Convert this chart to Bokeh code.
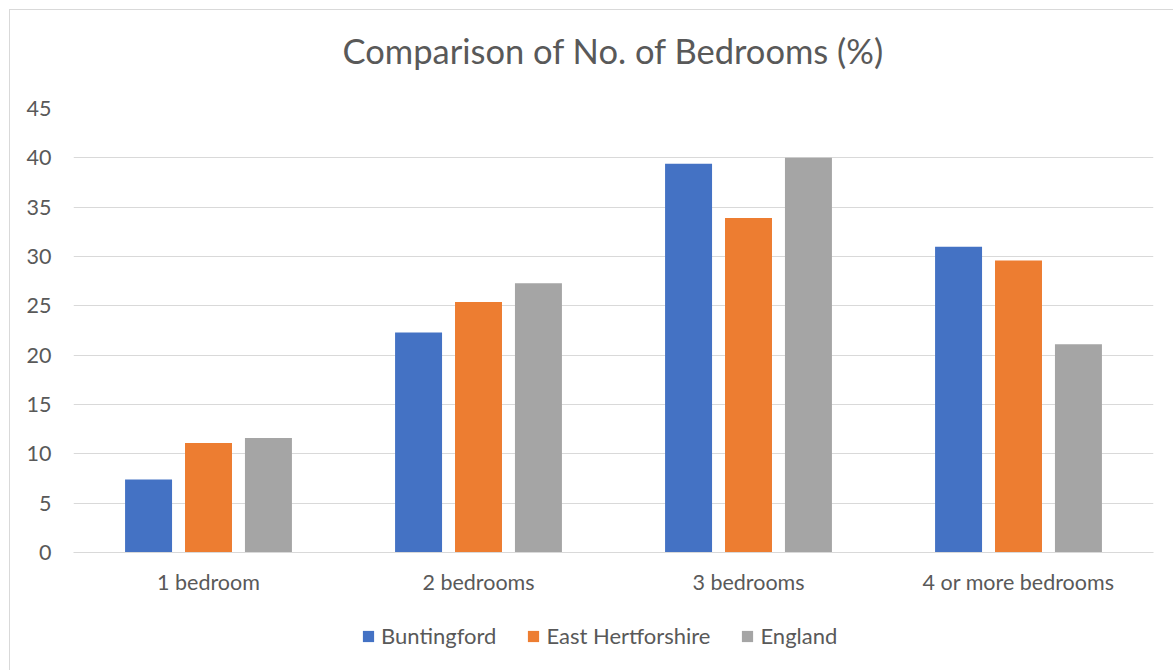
from bokeh.plotting import figure
from bokeh.models import ColumnDataSource, FactorRange, Range1d, FixedTicker, Legend, LegendItem, Title
from bokeh.layouts import column
from bokeh.transform import dodge
from bokeh.embed import file_html
from bokeh.resources import INLINE

categories = ["1 bedroom", "2 bedrooms", "3 bedrooms", "4 or more bedrooms"]
series_names = ["Buntingford", "East Hertforshire", "England"]
buntingford = [7.4, 22.3, 39.4, 31.0]
east_herts = [11.1, 25.4, 33.9, 29.6]
england = [11.6, 27.3, 40.0, 21.1]
y_ticks = [0, 5, 10, 15, 20, 25, 30, 35, 40, 45]
title_text = "Comparison of No. of Bedrooms (%)"

colors = ["#4472C4", "#ED7D31", "#A5A5A5"]
FONT = "Lato"
TXT = "#595959"
TICK_SIZE = "21.5px"

source = ColumnDataSource(data=dict(cat=categories, b=buntingford, e=east_herts, g=england))

p = figure(x_range=FactorRange(*categories, range_padding=0), y_range=Range1d(0, 45),
           width=1163, height=600, output_backend="svg", toolbar_location=None,
           min_border_left=63, min_border_right=20, min_border_top=98, min_border_bottom=58,
           title=None)

# spacer panel between frame and title, then the title itself
p.add_layout(Title(text=" ", text_font=FONT, text_font_size="17px", standoff=0), "above")
p.add_layout(Title(text=title_text, align="center", text_font=FONT, text_font_size="34.5px",
                   text_font_style="normal", text_color=TXT, standoff=30), "above")

offsets = [-0.222, 0.0, 0.222]
renderers = []
for key, off, col in zip(["b", "e", "g"], offsets, colors):
    r = p.vbar(x=dodge("cat", off, range=p.x_range), top=key, width=0.174, source=source,
               fill_color=col, line_color=None)
    renderers.append(r)

p.outline_line_color = None
p.xgrid.grid_line_color = None
p.ygrid.grid_line_color = "#d9d9d9"
p.ygrid.grid_line_width = 1

p.yaxis.ticker = FixedTicker(ticks=y_ticks)
p.yaxis.axis_line_color = None
p.yaxis.major_tick_line_color = None
p.yaxis.minor_tick_line_color = None
p.yaxis.major_tick_out = 0
p.yaxis.major_label_text_font = FONT
p.yaxis.major_label_text_font_size = TICK_SIZE
p.yaxis.major_label_text_color = TXT
p.yaxis.major_label_standoff = 22

p.xaxis.axis_line_color = "#d9d9d9"
p.xaxis.major_tick_line_color = None
p.xaxis.minor_tick_line_color = None
p.xaxis.major_tick_out = 0
p.xaxis.major_label_text_font = FONT
p.xaxis.major_label_text_font_size = TICK_SIZE
p.xaxis.major_label_text_color = TXT
p.xaxis.major_label_standoff = 16

# legend strip below the chart (its own small canvas so nothing is clipped);
# the series are drawn again there but the y range keeps the bars far out of view
lg = figure(x_range=FactorRange(*categories, range_padding=0), y_range=Range1d(1000, 1001),
            width=1163, height=60, output_backend="svg", toolbar_location=None,
            x_axis_type=None, y_axis_type=None, min_border=0)
lg.outline_line_color = None
lg.grid.grid_line_color = None
swatches = []
for key, off, col in zip(["b", "e", "g"], offsets, colors):
    swatches.append(lg.vbar(x=dodge("cat", off, range=lg.x_range), top=key, bottom=0, width=0.174,
                            source=source, fill_color=col, line_color=None))

legend = Legend(items=[LegendItem(label=n, renderers=[r]) for n, r in zip(series_names, swatches)],
                orientation="horizontal", location=(288, 21),
                glyph_width=14, glyph_height=14, label_standoff=6, spacing=30,
                label_text_font=FONT, label_text_font_size="22px", label_text_color=TXT,
                border_line_color=None, background_fill_alpha=0, margin=0, padding=0)
lg.add_layout(legend)

lay = column(p, lg, spacing=0, margin=(9, 0, 0, 9),
             styles={"border-left": "1px solid #d9d9d9", "border-top": "1px solid #d9d9d9"})

open("out.html", "w").write(file_html(lay, INLINE))
